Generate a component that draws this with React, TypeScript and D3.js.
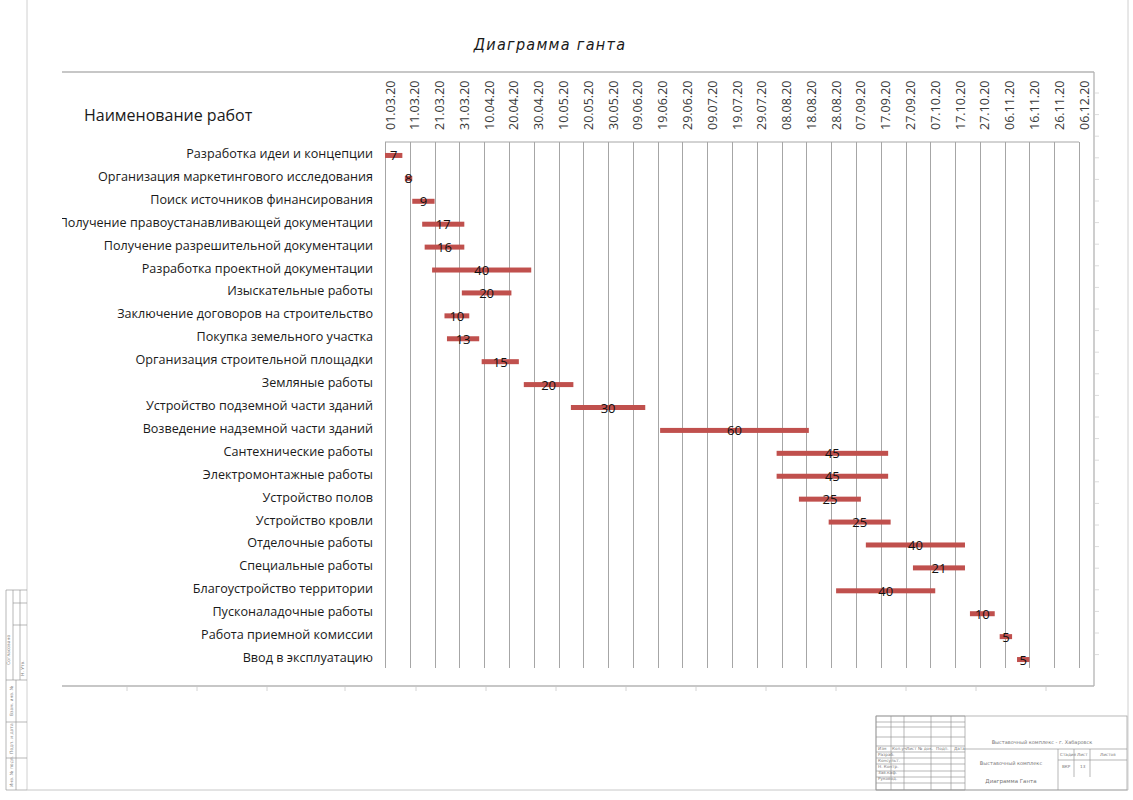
import React from "react";
import * as d3 from "d3";

const tasks = [
  "Разработка идеи и концепции",
  "Организация маркетингового исследования",
  "Поиск источников финансирования",
  "Получение правоустанавливающей документации",
  "Получение разрешительной документации",
  "Разработка проектной документации",
  "Изыскательные работы",
  "Заключение договоров на строительство",
  "Покупка земельного участка",
  "Организация строительной площадки",
  "Земляные работы",
  "Устройство подземной части зданий",
  "Возведение надземной части зданий",
  "Сантехнические работы",
  "Электромонтажные работы",
  "Устройство полов",
  "Устройство кровли",
  "Отделочные работы",
  "Специальные работы",
  "Благоустройство территории",
  "Пусконаладочные работы",
  "Работа приемной комиссии",
  "Ввод в эксплуатацию",
];

const startDates = [
  "01.03.20", "09.03.20", "12.03.20", "16.03.20", "17.03.20", "20.03.20",
  "01.04.20", "25.03.20", "26.03.20", "09.04.20", "26.04.20", "15.05.20",
  "20.06.20", "06.08.20", "06.08.20", "15.08.20", "27.08.20", "11.09.20",
  "30.09.20", "30.08.20", "23.10.20", "04.11.20", "11.11.20",
];

const barDurations = [7, 3, 9, 17, 16, 40, 20, 10, 13, 15, 20, 30, 60, 45, 45, 25, 25, 40, 21, 40, 10, 5, 5];
const durationLabels = [7, 8, 9, 17, 16, 40, 20, 10, 13, 15, 20, 30, 60, 45, 45, 25, 25, 40, 21, 40, 10, 5, 5];

const dateTicks = [
  "01.03.20", "11.03.20", "21.03.20", "31.03.20", "10.04.20", "20.04.20",
  "30.04.20", "10.05.20", "20.05.20", "30.05.20", "09.06.20", "19.06.20",
  "29.06.20", "09.07.20", "19.07.20", "29.07.20", "08.08.20", "18.08.20",
  "28.08.20", "07.09.20", "17.09.20", "27.09.20", "07.10.20", "17.10.20",
  "27.10.20", "06.11.20", "16.11.20", "26.11.20", "06.12.20",
];

const title = "Диаграмма ганта";
const columnHeader = "Наименование работ";

const parse = d3.utcParse("%d.%m.%y");

const FONT = "'Open Sans', 'Noto Sans', sans-serif";

export default function App() {
  const left = 385, right = 1079, top = 142, bottom = 668;
  const x = d3
    .scaleUtc()
    .domain([parse(dateTicks[0]) as Date, parse(dateTicks[dateTicks.length - 1]) as Date])
    .range([left, right]);
  const y = d3.scaleBand<string>().domain(tasks).range([144, 671]).paddingInner(0);
  const bw = y.bandwidth();

  const gridColor = "#a6a6a6";
  const frameColor = "#b4b4b4";
  const stampColor = "#9a9a9a";

  const rightTicks = d3.range(0, 27).map((i) => 93 + i * 21.6);
  const bottomTicks = [127, 197, 267, 345, 416, 486, 556, 626, 696, 766, 836, 906, 976, 1046];

  const stampRowsY = [716, 722, 727, 737, 746, 752, 758, 764, 771, 777, 783, 790];
  const stampCols = [876, 891, 904, 931, 951, 965];

  return (
    <svg
      width={1133}
      height={800}
      style={{ position: "absolute", left: 0, top: 0, background: "#fff" }}
      fontFamily={FONT}
    >
      <rect x={0} y={0} width={1133} height={800} fill="#fff" />
      <defs>
        <clipPath id="chartClip">
          <rect x={62} y={72} width={1032} height={614} />
        </clipPath>
      </defs>

      {/* Page frame */}
      <line x1={27} y1={0} x2={27} y2={790} stroke="#d0d0d0" strokeWidth={1} />
      <line x1={1128} y1={0} x2={1128} y2={790} stroke="#d0d0d0" strokeWidth={1} />
      <line x1={27} y1={790} x2={1128} y2={790} stroke="#c8c8c8" strokeWidth={1} />

      {/* Title */}
      <text
        x={550}
        y={50}
        textAnchor="middle"
        fontFamily="'DejaVu Sans Condensed', 'DejaVu Sans', sans-serif"
        fontStyle="italic"
        fontSize={16}
        letterSpacing={1.3}
        fill="#1a1a1a"
      >
        {title}
      </text>

      {/* Chart frame */}
      <line x1={62} y1={72} x2={1094} y2={72} stroke={frameColor} strokeWidth={1.3} />
      <line x1={1094} y1={72} x2={1094} y2={686} stroke={frameColor} strokeWidth={1.3} />
      <line x1={62} y1={686} x2={1094} y2={686} stroke={frameColor} strokeWidth={1.3} />
      {rightTicks.map((t, i) => (
        <line key={"rt" + i} x1={1095} x2={1099} y1={t} y2={t} stroke="#dcdcdc" strokeWidth={1} />
      ))}
      {bottomTicks.map((t, i) => (
        <line key={"bt" + i} x1={t} x2={t} y1={687} y2={691} stroke="#d4d4d4" strokeWidth={1} />
      ))}

      <g clipPath="url(#chartClip)">
        {/* header */}
        <text x={84} y={121} fontSize={16} fill="#1a1a1a">
          {columnHeader}
        </text>

        {/* date labels */}
        {dateTicks.map((d) => {
          const xx = x(parse(d) as Date) + 5;
          return (
            <text
              key={"d" + d}
              transform={`translate(${xx},${130}) rotate(-90)`}
              fontSize={12.5}
              fill="#3a3a3a"
              dominantBaseline="central"
            >
              {d}
            </text>
          );
        })}

        {/* plot border + gridlines */}
        <line x1={left} y1={top} x2={right} y2={top} stroke={gridColor} strokeWidth={1} />
        {dateTicks.map((d) => {
          const xx = Math.round(x(parse(d) as Date)) + 0.5;
          return <line key={"g" + d} x1={xx} x2={xx} y1={top} y2={bottom} stroke={gridColor} strokeWidth={1} />;
        })}

        {/* task names */}
        {tasks.map((t) => (
          <text
            key={"t" + t}
            x={373}
            y={(y(t) as number) + bw / 2 - 2}
            textAnchor="end"
            dominantBaseline="central"
            fontSize={12.6}
            fill="#1a1a1a"
          >
            {t}
          </text>
        ))}

        {/* bars */}
        {tasks.map((t, i) => {
          const s = parse(startDates[i]) as Date;
          const e = d3.utcDay.offset(s, barDurations[i]);
          const x0 = x(s);
          const x1 = x(e);
          const cy = (y(t) as number) + bw / 2;
          return (
            <g key={"b" + i}>
              <rect x={x0} y={cy - 2.5} width={x1 - x0} height={5} fill="#C0504D" />
              <text
                x={(x0 + x1) / 2}
                y={cy}
                textAnchor="middle"
                dominantBaseline="central"
                fontSize={13}
                fill="#111"
              >
                {durationLabels[i]}
              </text>
            </g>
          );
        })}
      </g>

      {/* Side stamp (left) */}
      <g stroke={stampColor} strokeWidth={0.7} fill="none">
        <line x1={6} y1={590} x2={6} y2={790} />
        <line x1={13} y1={590} x2={13} y2={680} />
        <line x1={20} y1={590} x2={20} y2={680} />
        <line x1={6} y1={590} x2={27} y2={590} />
        <line x1={13} y1={603} x2={27} y2={603} />
        <line x1={13} y1={625} x2={27} y2={625} />
        <line x1={6} y1={680} x2={27} y2={680} />
        <line x1={16} y1={680} x2={16} y2={790} />
        <line x1={6} y1={722} x2={27} y2={722} />
        <line x1={6} y1={758} x2={27} y2={758} />
        <line x1={6} y1={790} x2={27} y2={790} />
      </g>
      <g fill="#888" fontSize={4.5} fontFamily="'DejaVu Sans', sans-serif">
        <text transform="translate(10,665) rotate(-90)">Согласовано</text>
        <text transform="translate(24,676) rotate(-90)">Н. Утв.</text>
        <text transform="translate(13,716) rotate(-90)">Взам. инв. №</text>
        <text transform="translate(13,754) rotate(-90)">Подп. и дата</text>
        <text transform="translate(13,787) rotate(-90)">Инв. № подл.</text>
      </g>

      {/* Title block (bottom right) */}
      <g stroke={stampColor} strokeWidth={0.7} fill="none">
        <rect x={876} y={716} width={251} height={74} />
        {stampRowsY.map((yy, i) => (
          <line key={"sr" + i} x1={876} x2={965} y1={yy} y2={yy} />
        ))}
        {stampCols.map((xx, i) => (
          <line key={"sc" + i} x1={xx} x2={xx} y1={716} y2={790} />
        ))}
        <line x1={965} y1={749} x2={1127} y2={749} />
        <line x1={1058} y1={749} x2={1058} y2={790} />
        <line x1={1074} y1={749} x2={1074} y2={777} />
        <line x1={1090} y1={749} x2={1090} y2={777} />
        <line x1={1058} y1={760} x2={1127} y2={760} />
      </g>
      <g fill="#777" fontSize={4.2} fontFamily="'DejaVu Sans', sans-serif">
        <text x={878} y={750}>Изм</text>
        <text x={892} y={750}>Кол.уч</text>
        <text x={906} y={750}>Лист</text>
        <text x={918} y={750}>№ док.</text>
        <text x={936} y={750}>Подп.</text>
        <text x={954} y={750}>Дата</text>
        <text x={878} y={756}>Разраб.</text>
        <text x={878} y={762}>Консульт.</text>
        <text x={878} y={768}>Н. Контр.</text>
        <text x={878} y={774}>Зав.каф.</text>
        <text x={878} y={780}>Руковод.</text>
        <text x={1042} y={744} textAnchor="middle" fontSize={5}>Выставочный комплекс - г. Хабаровск</text>
        <text x={1011} y={765} textAnchor="middle" fontSize={5}>Выставочный комплекс</text>
        <text x={1011} y={783} textAnchor="middle" fontSize={5.5}>Диаграмма Ганта</text>
        <text x={1060} y={756}>Стадия</text>
        <text x={1077} y={756}>Лист</text>
        <text x={1100} y={756}>Листов</text>
        <text x={1062} y={768}>ВКР</text>
        <text x={1080} y={768}>13</text>
      </g>
    </svg>
  );
}
